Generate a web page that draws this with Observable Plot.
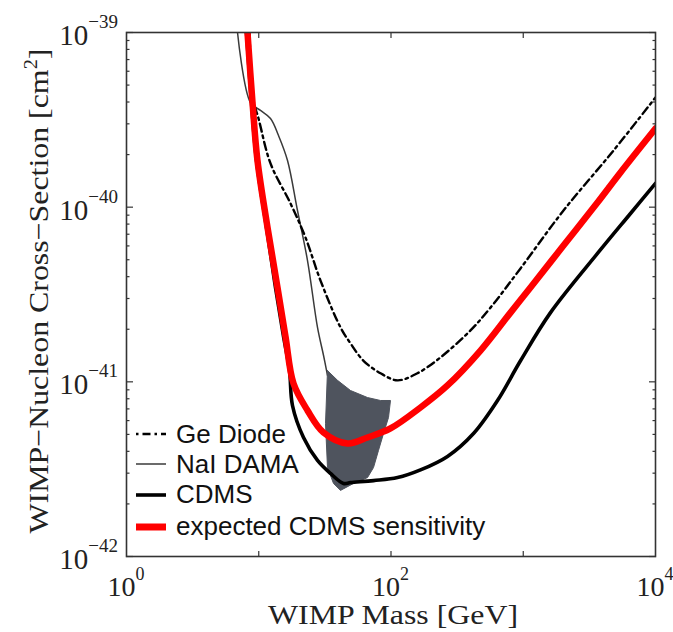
<!DOCTYPE html>
<html><head><meta charset="utf-8">
<script src="https://cdn.jsdelivr.net/npm/d3@7"></script>
<script src="https://cdn.jsdelivr.net/npm/@observablehq/plot@0.6"></script>
<style>
html,body{margin:0;padding:0;background:#fff;}
#chart{width:673px;height:632px;overflow:hidden;}
</style></head><body><div id="chart"></div>
<script>
// ---- data (mass in GeV, cross-section in cm^2) ----
const geMass  = [8.51, 9.13, 9.96, 12.27, 17.38, 22.57, 29.31, 41.51, 49.41, 61.95, 83.29, 112, 158.6, 236.7, 399.1, 565.4, 953.3, 2015, 4814, 10000];
const geSigma = [1e-39, 4.08e-40, 3.22e-40, 1.78e-40, 1.05e-40, 6.70e-41, 3.80e-41, 2.05e-41, 1.66e-41, 1.32e-41, 1.12e-41, 1.02e-41, 1.12e-41, 1.38e-41, 1.97e-41, 2.66e-41, 4.46e-41, 9.57e-41, 2.11e-40, 4.25e-40];

const naiMass  = [6.91, 8.66, 10.31, 12.27, 14.11, 16.50, 19.63, 23.37, 27.81, 30.87, 33.10];
const naiSigma = [1e-39, 3.97e-40, 3.58e-40, 3.22e-40, 2.57e-40, 1.85e-40, 9.57e-41, 4.95e-41, 2.05e-41, 1.42e-41, 1.09e-41];

const cdmsMass  = [8.08, 8.81, 9.62, 11.44, 13.38, 15.39, 17.08, 17.99, 21.80, 27.81, 34.87, 43.74, 49.41, 73.75, 112, 167.1, 267.4, 420.5, 638.9, 953.3, 1607, 3642, 6471, 10000];
const cdmsSigma = [1e-39, 3.97e-40, 1.85e-40, 7.65e-41, 3.47e-41, 1.82e-41, 1.16e-41, 7.32e-42, 4.80e-42, 3.55e-42, 2.99e-42, 2.62e-42, 2.65e-42, 2.72e-42, 2.83e-42, 3.13e-42, 3.74e-42, 5.06e-42, 7.82e-42, 1.32e-41, 2.49e-41, 5.43e-41, 9.20e-41, 1.37e-40];

const expMass  = [8.22, 8.97, 9.78, 11.65, 13.86, 15.93, 18.32, 23.37, 30.87, 46.91, 66.43, 99.13, 167.1, 267.4, 475, 801, 1134, 2015, 3642, 5437, 10000];
const expSigma = [1e-39, 3.97e-40, 1.85e-40, 7.65e-41, 3.47e-41, 1.82e-41, 9.78e-42, 6.86e-42, 5.13e-42, 4.44e-42, 4.80e-42, 5.41e-42, 7.13e-42, 9.53e-42, 1.51e-41, 2.49e-41, 3.47e-41, 6.03e-41, 1.063e-40, 1.58e-40, 2.82e-40];

// DAMA annual-modulation region (closed outline)
const damaMass  = [33.10, 39.40, 49.41, 66.43, 83.29, 99.13, 95.74, 87.77, 80.44, 73.75, 66.43, 52.05, 41.51, 36.75, 33.10, 31.97, 33.10];
const damaSigma = [1.16e-41, 1.02e-41, 8.92e-42, 8.13e-42, 7.82e-42, 7.82e-42, 6.25e-42, 5.06e-42, 4.05e-42, 3.23e-42, 2.83e-42, 2.62e-42, 2.39e-42, 2.62e-42, 3.23e-42, 5.77e-42, 1.16e-41];

const xTickExps = [0, 2, 4];
const xMinorExps = [1, 2, 3];
const yTickExps = [-39, -40, -41, -42];
const legendLabels = ["Ge Diode", "NaI DAMA", "CDMS", "expected CDMS sensitivity"];
const xTitle = "WIMP Mass [GeV]";
const yTitleParts = ["WIMP\u2212Nucleon Cross\u2212Section [cm", "2", "]"];

// ---- build ----
const zip = (xs, ys) => xs.map((x, i) => ({mass: x, sigma: ys[i]}));
const ge = zip(geMass, geSigma), nai = zip(naiMass, naiSigma), cdms = zip(cdmsMass, cdmsSigma),
      exp = zip(expMass, expSigma), dama = zip(damaMass, damaSigma);

const styles = [
  {stroke: "#000", strokeWidth: 2.4, strokeDasharray: "8,4,2.5,4"},
  {stroke: "#3a3a3a", strokeWidth: 1.5},
  {stroke: "#000", strokeWidth: 3.6},
  {stroke: "#ff0000", strokeWidth: 6.5}
];

const yMajor = yTickExps.map(e => Math.pow(10, e));
const yMinor = [];
for (let e = -42; e < -39; e++) for (let k = 2; k <= 9; k++) yMinor.push(k * Math.pow(10, e));
const xMajor = xMinorExps.map(e => Math.pow(10, e));

const tickStyle = {fill: "none", label: null, stroke: "#333", strokeWidth: 1.2};

const plot = Plot.plot({
  width: 673, height: 632,
  marginLeft: 126, marginRight: 18, marginTop: 32, marginBottom: 76,
  style: {background: "#fff", fontFamily: "'Liberation Serif', 'Times New Roman', serif"},
  x: {type: "log", domain: [1, 1e4]},
  y: {type: "log", domain: [1e-42, 1e-39]},
  marks: [
    Plot.line(nai, {x: "mass", y: "sigma", curve: "catmull-rom", clip: true, ...styles[1]}),
    Plot.line(dama, {x: "mass", y: "sigma", curve: "linear", fill: "#4f545e", stroke: "#4f545e", strokeWidth: 1}),
    Plot.line(ge, {x: "mass", y: "sigma", curve: "catmull-rom", clip: true, ...styles[0]}),
    Plot.line(cdms, {x: "mass", y: "sigma", curve: "catmull-rom", clip: true, ...styles[2]}),
    Plot.line(exp, {x: "mass", y: "sigma", curve: "catmull-rom", clip: true, ...styles[3]}),
    Plot.axisY({anchor: "left", ticks: yMajor, tickSize: -7, ...tickStyle}),
    Plot.axisY({anchor: "left", ticks: yMinor, tickSize: -3.5, ...tickStyle}),
    Plot.axisY({anchor: "right", ticks: yMajor, tickSize: -7, ...tickStyle}),
    Plot.axisY({anchor: "right", ticks: yMinor, tickSize: -3.5, ...tickStyle}),
    Plot.axisX({anchor: "bottom", ticks: xMajor, tickSize: -5, ...tickStyle}),
    Plot.axisX({anchor: "top", ticks: xMajor, tickSize: -5, ...tickStyle}),
    Plot.frame({stroke: "#333", strokeWidth: 1.6})
  ]
});

const svg = d3.select(plot);
const xs = plot.scale("x"), ys = plot.scale("y");
const serif = "'Liberation Serif', 'Times New Roman', serif";
const sans = "'Liberation Sans', Arial, Helvetica, sans-serif";
const fmtExp = e => (e < 0 ? "\u2212" : "") + Math.abs(e);

// x tick labels
xTickExps.forEach(e => {
  const t = svg.append("text")
    .attr("x", xs.apply(Math.pow(10, e))).attr("y", 596)
    .attr("text-anchor", "middle").attr("font-family", serif).attr("font-size", 28).attr("fill", "#222");
  t.append("tspan").text("10");
  t.append("tspan").attr("dy", -16).attr("font-size", 18).text(fmtExp(e));
});
// y tick labels
yTickExps.forEach(e => {
  const t = svg.append("text")
    .attr("x", 118).attr("y", ys.apply(Math.pow(10, e)) + 13)
    .attr("text-anchor", "end").attr("font-family", serif).attr("font-size", 29).attr("fill", "#222");
  t.append("tspan").text("10");
  t.append("tspan").attr("dy", -17).attr("font-size", 19).text(fmtExp(e));
});
// axis titles
svg.append("text").attr("x", 393).attr("y", 624).attr("text-anchor", "middle")
  .attr("font-family", serif).attr("font-size", 28).attr("fill", "#222")
  .attr("textLength", 250).attr("lengthAdjust", "spacingAndGlyphs").text(xTitle);
const yt = svg.append("text").attr("transform", "translate(48,291) rotate(-90)").attr("text-anchor", "middle")
  .attr("font-family", serif).attr("font-size", 28).attr("fill", "#222")
  .attr("textLength", 485).attr("lengthAdjust", "spacingAndGlyphs");
yt.append("tspan").text(yTitleParts[0]);
yt.append("tspan").attr("dy", -11).attr("font-size", 18).text(yTitleParts[1]);
yt.append("tspan").attr("dy", 11).text(yTitleParts[2]);

// legend
const rowsLineY = [434, 464, 495, 527];
const rowsTextY = [443, 473, 503, 535];
legendLabels.forEach((lab, i) => {
  const s = styles[i];
  svg.append("line").attr("x1", 136).attr("x2", 166).attr("y1", rowsLineY[i]).attr("y2", rowsLineY[i])
    .attr("stroke", s.stroke).attr("stroke-width", i === 3 ? 7 : s.strokeWidth)
    .attr("stroke-dasharray", i === 0 ? "2.5,4,8,4" : null);
  svg.append("text").attr("x", 176).attr("y", rowsTextY[i]).attr("text-anchor", "start")
    .attr("font-family", sans).attr("font-size", 26).attr("fill", "#111").text(lab);
});

document.getElementById("chart").appendChild(plot);
</script></body></html>
